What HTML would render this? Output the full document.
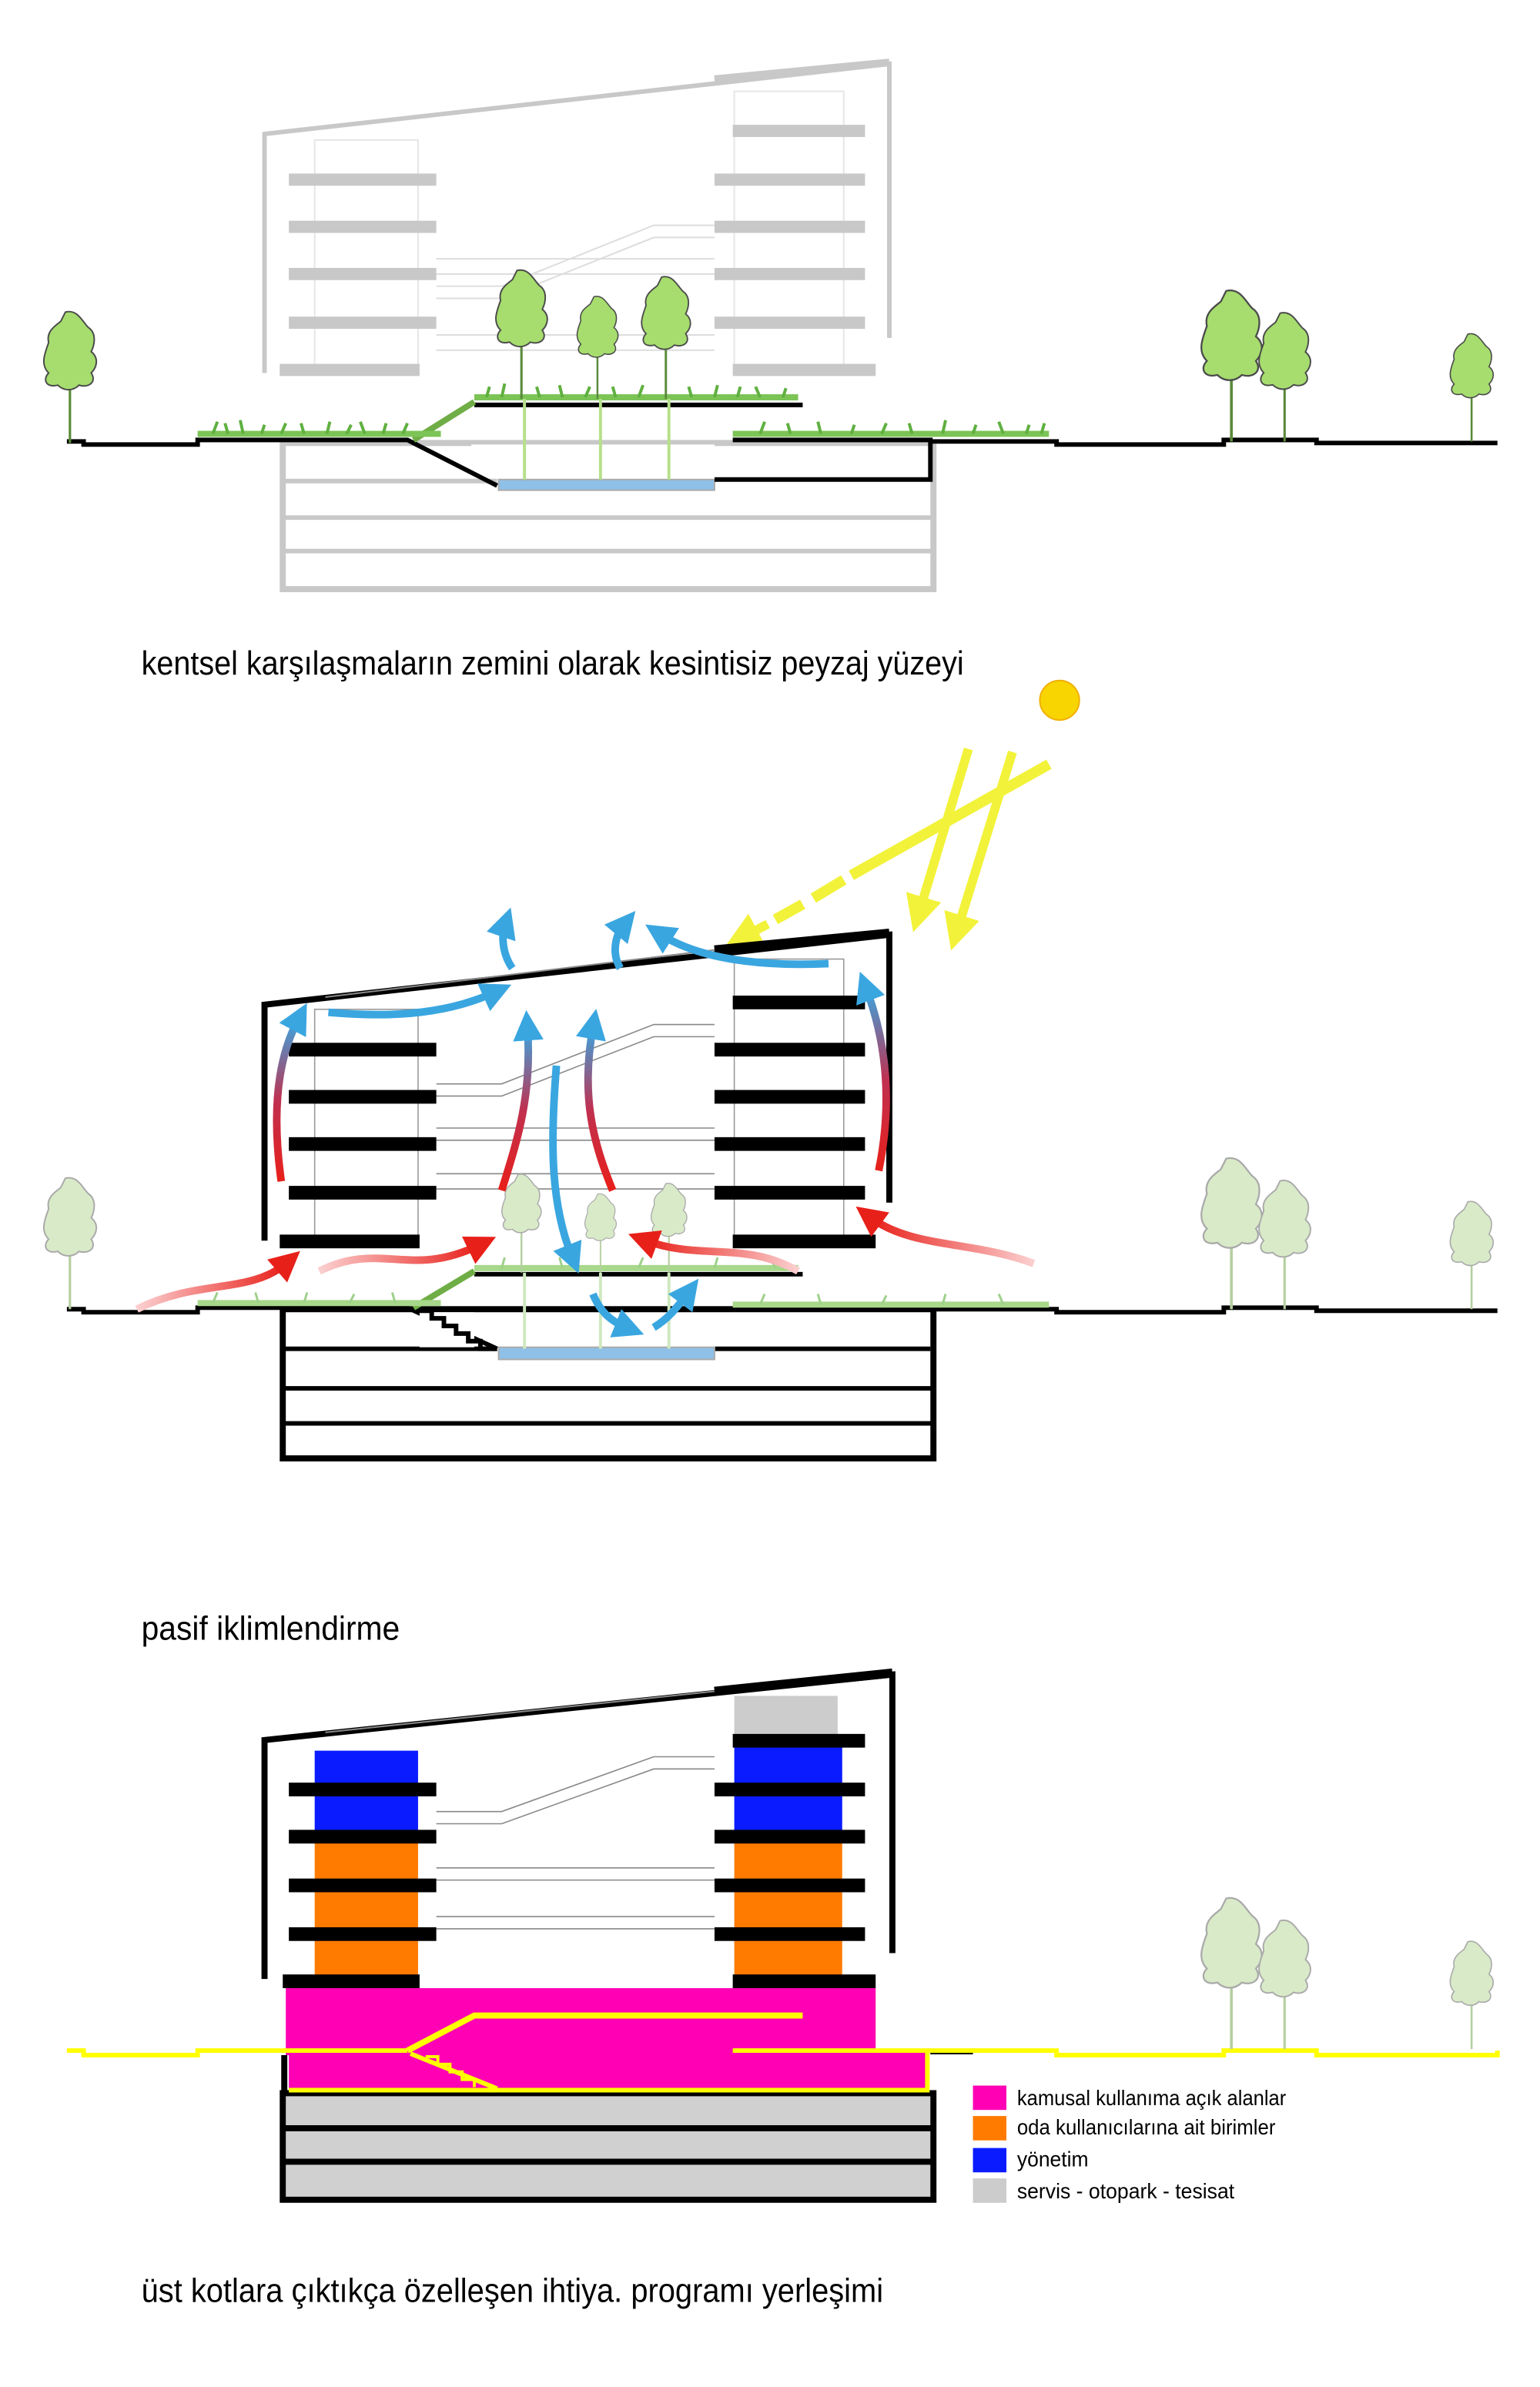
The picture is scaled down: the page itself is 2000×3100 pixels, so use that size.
<!DOCTYPE html>
<html><head><meta charset="utf-8"><style>
html,body{margin:0;padding:0;background:#fff;}
svg{display:block;}
text{font-family:"Liberation Sans",sans-serif;}
</style></head><body>
<svg width="2000" height="3100" viewBox="0 0 1013 1568" preserveAspectRatio="none" xmlns="http://www.w3.org/2000/svg">
<defs>
<g id="tree">
<line x1="0" y1="0" x2="0" y2="-48" stroke="#5a8a3a" stroke-width="1.6"/>
<path d="M-3,-86 C5,-88 8,-80 12,-76 C18,-72 16,-64 14,-60 C19,-56 18,-50 14,-46 C18,-40 12,-36 6,-38 C2,-34 -4,-34 -8,-38 C-16,-36 -18,-42 -14,-46 C-20,-52 -16,-60 -14,-66 C-16,-74 -8,-78 -6,-80 Z" fill="#a6dd6e" stroke="#4a4a4a" stroke-width="1"/>
</g>
<g id="treef">
<line x1="0" y1="0" x2="0" y2="-48" stroke="#b5cfa0" stroke-width="1.6"/>
<path d="M-3,-86 C5,-88 8,-80 12,-76 C18,-72 16,-64 14,-60 C19,-56 18,-50 14,-46 C18,-40 12,-36 6,-38 C2,-34 -4,-34 -8,-38 C-16,-36 -18,-42 -14,-46 C-20,-52 -16,-60 -14,-66 C-16,-74 -8,-78 -6,-80 Z" fill="#d9eac8" stroke="#aaa" stroke-width="1"/>
</g>
<marker id="ab" markerWidth="4" markerHeight="4" refX="1.5" refY="2" orient="auto"><path d="M0,0 L4,2 L0,4 Z" fill="#3aa6e0"/></marker>
<marker id="ar" markerWidth="4" markerHeight="4" refX="1.5" refY="2" orient="auto"><path d="M0,0 L4,2 L0,4 Z" fill="#e8201a"/></marker>
<marker id="ay" markerWidth="4" markerHeight="4" refX="1.5" refY="2" orient="auto"><path d="M0,0 L4,2 L0,4 Z" fill="#f2f23a"/></marker>
<linearGradient id="rb" x1="0" y1="1" x2="0" y2="0"><stop offset="0" stop-color="#e8201a"/><stop offset="0.5" stop-color="#c03050"/><stop offset="1" stop-color="#3aa6e0"/></linearGradient>
<linearGradient id="rh" x1="0" y1="0" x2="1" y2="0"><stop offset="0" stop-color="#fbd0d0"/><stop offset="1" stop-color="#e8201a"/></linearGradient>
<linearGradient id="rh2" x1="1" y1="0" x2="0" y2="0"><stop offset="0" stop-color="#fbd0d0"/><stop offset="1" stop-color="#e8201a"/></linearGradient>
</defs>

<!-- ============ SECTION 1 ============ -->
<g fill="none" stroke="#c8c8c8">
<path d="M174,245 L174,88 L585,42 L585,222" stroke-width="3"/>
<line x1="470" y1="52" x2="585" y2="41" stroke-width="5"/>
<rect x="207" y="92" width="68" height="153" stroke="#e6e6e6" stroke-width="1"/>
<rect x="483" y="60" width="72" height="185" stroke="#e6e6e6" stroke-width="1"/>
<path d="M287,188 L330,188 L430,148 L470,148 M287,196 L330,196 L430,156 L470,156 M287,230 L470,230 M287,220 L470,220 M287,170 L470,170 M287,180 L470,180" stroke="#ddd" stroke-width="1"/>
</g>
<g fill="#c8c8c8">
<rect x="190" y="114" width="97" height="8"/><rect x="190" y="145" width="97" height="8"/><rect x="190" y="176" width="97" height="8"/><rect x="190" y="208" width="97" height="8"/><rect x="184" y="239" width="92" height="8"/>
<rect x="482" y="82" width="87" height="8"/><rect x="470" y="114" width="99" height="8"/><rect x="470" y="145" width="99" height="8"/><rect x="470" y="176" width="99" height="8"/><rect x="470" y="208" width="99" height="8"/><rect x="482" y="239" width="94" height="8"/>
</g>
<rect x="186" y="291" width="428" height="96" fill="none" stroke="#c8c8c8" stroke-width="4"/>
<line x1="186" y1="316" x2="327" y2="316" stroke="#c8c8c8" stroke-width="3"/>
<line x1="186" y1="340" x2="614" y2="340" stroke="#c8c8c8" stroke-width="3"/>
<line x1="186" y1="362" x2="614" y2="362" stroke="#c8c8c8" stroke-width="3"/>
<rect x="310" y="292" width="160" height="22" fill="#fff"/>
<rect x="328" y="315" width="142" height="7" fill="#8ec0e8" stroke="#aaa" stroke-width="1"/>
<g stroke="#000" stroke-width="3" fill="none">
<path d="M44,290 L55,290 L55,292 L130,292 L130,289 L268,289 L327,319"/>
<line x1="312" y1="266" x2="528" y2="266"/>
<path d="M470,315 L612,315 L612,289 L482,289"/>
<path d="M612,290 L695,290 L695,292 L805,292 L805,289 L866,289 L866,291 L985,291"/>
</g>
<path d="M272,289 L312,264" stroke="#6fae46" stroke-width="4"/>
<g stroke="#7cc456" stroke-width="4"><line x1="130" y1="285" x2="290" y2="285"/><line x1="312" y1="261" x2="525" y2="261"/><line x1="482" y1="285" x2="690" y2="285"/></g>
<g stroke="#5fb040" stroke-width="2" fill="none">
<path d="M140,285 l3,-8 M150,285 l-2,-7 M160,285 l-2,-9 M172,285 l2,-6 M185,285 l3,-7 M200,285 l-2,-7 M215,285 l2,-8 M228,285 l3,-6 M240,285 l-3,-8 M252,285 l2,-7 M265,285 l3,-7 M320,261 l2,-7 M330,261 l2,-9 M355,261 l-2,-7 M370,261 l-2,-8 M385,261 l3,-7 M405,261 l-2,-7 M420,261 l3,-8 M455,261 l-2,-7 M470,261 l2,-8 M485,261 l2,-7 M500,261 l-3,-7 M515,261 l2,-6 M500,285 l3,-8 M520,285 l-2,-7 M540,285 l-2,-8 M560,285 l2,-6 M580,285 l3,-7 M600,285 l-2,-7 M620,285 l2,-9 M640,285 l2,-6 M660,285 l-3,-8 M675,285 l2,-6 M685,285 l2,-7"/>
</g>
<g stroke="#b6e08a" stroke-width="2"><line x1="345" y1="262" x2="345" y2="315"/><line x1="395" y1="262" x2="395" y2="315"/><line x1="440" y1="262" x2="440" y2="315"/></g>
<use href="#tree" transform="translate(46,291) scale(1)"/>
<use href="#tree" transform="translate(343,262) scale(0.98)"/>
<use href="#tree" transform="translate(393,262) scale(0.78)"/>
<use href="#tree" transform="translate(438,262) scale(0.93)"/>
<use href="#tree" transform="translate(810,290) scale(1.15)"/>
<use href="#tree" transform="translate(845,290) scale(0.98)"/>
<use href="#tree" transform="translate(968,290) scale(0.82)"/>

<text x="93" y="443" font-size="22" textLength="541" lengthAdjust="spacingAndGlyphs">kentsel karşılaşmaların zemini olarak kesintisiz peyzaj yüzeyi</text>

<!-- ============ SECTION 2 ============ -->
<circle cx="697" cy="460" r="13" fill="#f8d400" stroke="#f0b000" stroke-width="1"/>
<g stroke="#f2f23a" stroke-width="7" fill="none">
<path d="M690,502 L560,575" />
<path d="M555,578 L535,590" /><path d="M528,594 L510,604" />
<path d="M505,607 L490,615" marker-end="url(#ay)" stroke-width="6"/>
<path d="M637,492 L605,598" marker-end="url(#ay)" stroke-width="6"/>
<path d="M666,494 L630,610" marker-end="url(#ay)" stroke-width="6"/>
</g>
<g fill="none" stroke="#000">
<path d="M174,815 L174,660 L585,614 L585,790" stroke-width="4"/>
<line x1="470" y1="624" x2="585" y2="613" stroke-width="6"/>
<line x1="214" y1="655" x2="470" y2="624" stroke="#888" stroke-width="1"/>
<rect x="207" y="663" width="68" height="153" stroke="#999" stroke-width="0.8"/>
<rect x="483" y="630" width="72" height="186" stroke="#999" stroke-width="0.8"/>
<path d="M287,712 L330,712 L430,673 L470,673 M287,720 L330,720 L430,681 L470,681 M287,741 L470,741 M287,749 L470,749 M287,771 L470,771 M287,781 L470,781" stroke="#888" stroke-width="0.8"/>
</g>
<g fill="#000">
<rect x="190" y="685" width="97" height="9"/><rect x="190" y="716" width="97" height="9"/><rect x="190" y="747" width="97" height="9"/><rect x="190" y="779" width="97" height="9"/><rect x="184" y="811" width="92" height="9"/>
<rect x="482" y="654" width="87" height="9"/><rect x="470" y="685" width="99" height="9"/><rect x="470" y="716" width="99" height="9"/><rect x="470" y="747" width="99" height="9"/><rect x="470" y="779" width="99" height="9"/><rect x="482" y="811" width="94" height="9"/>
</g>
<g stroke="#000" stroke-width="3" fill="none">
<path d="M44,860 L55,860 L55,862 L130,862 L130,859 L268,859 L327,886"/>
<line x1="312" y1="837" x2="528" y2="837"/>
<path d="M470,886 L612,886"/>
<path d="M482,860 L612,860 L695,860 L695,862 L805,862 L805,859 L866,859 L866,861 L985,861"/>
</g>
<rect x="186" y="860" width="428" height="98" fill="none" stroke="#000" stroke-width="4"/>
<line x1="186" y1="912" x2="614" y2="912" stroke="#000" stroke-width="3"/>
<line x1="186" y1="935" x2="614" y2="935" stroke="#000" stroke-width="3"/>
<line x1="186" y1="886" x2="327" y2="886" stroke="#000" stroke-width="3"/>
<rect x="276" y="862" width="36" height="23" fill="#fff"/>
<path d="M276,861 L284,861 L284,866 L292,866 L292,871 L300,871 L300,876 L308,876 L308,881 L316,881 L316,886 L327,886" fill="none" stroke="#000" stroke-width="3"/>
<rect x="328" y="885" width="142" height="8" fill="#8ec0e8" stroke="#aaa" stroke-width="1"/>
<path d="M272,859 L312,835" stroke="#6fae46" stroke-width="4"/>
<g stroke="#a8d88a" stroke-width="4"><line x1="130" y1="856" x2="290" y2="856"/><line x1="312" y1="833" x2="525" y2="833"/><line x1="482" y1="857" x2="690" y2="857"/></g>
<g stroke="#9ed08a" stroke-width="1.5" fill="none">
<path d="M140,856 l3,-7 M170,856 l-2,-7 M200,856 l2,-7 M230,856 l3,-6 M260,856 l-2,-7 M330,833 l2,-7 M370,833 l-2,-7 M420,833 l3,-7 M470,833 l2,-7 M510,833 l-3,-6 M500,857 l3,-7 M540,857 l-2,-7 M580,857 l3,-6 M620,857 l2,-7 M660,857 l-3,-7"/>
</g>
<g stroke="#cfe8bf" stroke-width="2"><line x1="345" y1="836" x2="345" y2="886"/><line x1="395" y1="836" x2="395" y2="886"/><line x1="440" y1="836" x2="440" y2="886"/></g>
<use href="#treef" transform="translate(343,836) scale(0.75)"/>
<use href="#treef" transform="translate(395,836) scale(0.6)"/>
<use href="#treef" transform="translate(440,836) scale(0.68)"/>
<use href="#treef" transform="translate(46,860)"/>
<use href="#treef" transform="translate(810,860) scale(1.15)"/>
<use href="#treef" transform="translate(845,860) scale(0.98)"/>
<use href="#treef" transform="translate(968,860) scale(0.82)"/>
<g fill="none" stroke-width="5">
<path d="M185,776 C180,740 180,700 196,670" stroke="url(#rb)" marker-end="url(#ab)"/>
<path d="M578,769 C586,730 585,690 570,650" stroke="url(#rb)" marker-end="url(#ab)"/>
<path d="M330,782 C340,750 350,720 347,676" stroke="url(#rb)" marker-end="url(#ab)"/>
<path d="M403,782 C390,750 382,720 390,675" stroke="url(#rb)" marker-end="url(#ab)"/>
<path d="M366,700 C362,750 362,790 376,825" stroke="#3aa6e0" marker-end="url(#ab)"/>
<path d="M216,665 C250,668 290,668 325,652" stroke="#3aa6e0" marker-end="url(#ab)"/>
<path d="M545,633 C500,635 460,630 435,614" stroke="#3aa6e0" marker-end="url(#ab)"/>
<path d="M337,636 C330,626 330,614 332,608" stroke="#3aa6e0" marker-end="url(#ab)"/>
<path d="M408,636 C402,626 405,614 410,608" stroke="#3aa6e0" marker-end="url(#ab)"/>
<path d="M390,850 C395,862 402,868 412,872" stroke="#3aa6e0" marker-end="url(#ab)"/>
<path d="M430,872 C440,866 446,858 452,850" stroke="#3aa6e0" marker-end="url(#ab)"/>
<path d="M90,860 C130,840 165,850 188,830" stroke="url(#rh)" marker-end="url(#ar)"/>
<path d="M210,835 C250,815 270,840 315,818" stroke="url(#rh)" marker-end="url(#ar)"/>
<path d="M525,835 C490,815 460,828 425,815" stroke="url(#rh2)" marker-end="url(#ar)"/>
<path d="M680,830 C640,815 600,820 573,800" stroke="url(#rh2)" marker-end="url(#ar)"/>
</g>

<text x="93" y="1077" font-size="22" textLength="170" lengthAdjust="spacingAndGlyphs">pasif iklimlendirme</text>

<!-- ============ SECTION 3 ============ -->
<rect x="483" y="1114" width="68" height="27" fill="#cccccc"/>
<rect x="207" y="1150" width="68" height="56" fill="#0a1cff"/>
<rect x="207" y="1206" width="68" height="96" fill="#ff7b00"/>
<rect x="483" y="1143" width="71" height="62" fill="#0a1cff"/>
<rect x="483" y="1205" width="71" height="97" fill="#ff7b00"/>
<g fill="none" stroke="#000">
<path d="M174,1300 L174,1143 L587,1100 L587,1283" stroke-width="4"/>
<line x1="470" y1="1111" x2="587" y2="1099" stroke-width="6"/>
<line x1="214" y1="1138" x2="470" y2="1111" stroke="#888" stroke-width="1"/>
<path d="M287,1190 L330,1190 L430,1154 L470,1154 M287,1198 L330,1198 L430,1162 L470,1162 M287,1227 L470,1227 M287,1235 L470,1235 M287,1259 L470,1259 M287,1267 L470,1267" stroke="#888" stroke-width="0.8"/>
</g>
<g fill="#000">
<rect x="190" y="1171" width="97" height="9"/><rect x="190" y="1202" width="97" height="9"/><rect x="190" y="1234" width="97" height="9"/><rect x="190" y="1266" width="97" height="9"/><rect x="186" y="1297" width="90" height="9"/>
<rect x="482" y="1139" width="87" height="9"/><rect x="470" y="1171" width="99" height="9"/><rect x="470" y="1202" width="99" height="9"/><rect x="470" y="1234" width="99" height="9"/><rect x="470" y="1266" width="99" height="9"/><rect x="482" y="1297" width="94" height="9"/>
</g>
<rect x="188" y="1306" width="388" height="44" fill="#ff00b4"/>
<rect x="190" y="1348" width="420" height="25" fill="#ff00b4"/>
<rect x="186" y="1375" width="428" height="70" fill="#d0d0d0" stroke="#000" stroke-width="4"/>
<line x1="186" y1="1398" x2="614" y2="1398" stroke="#000" stroke-width="4"/>
<line x1="186" y1="1420" x2="614" y2="1420" stroke="#000" stroke-width="4"/>
<line x1="187" y1="1350" x2="187" y2="1375" stroke="#000" stroke-width="4"/>
<g stroke="#ffff00" stroke-width="3" fill="none">
<path d="M44,1347 L55,1347 L55,1350 L130,1350 L130,1347 L268,1347"/>
<path d="M268,1347 L312,1324 L528,1324" stroke-width="4"/>
<path d="M270,1349 L327,1372"/>
<path d="M190,1373 L610,1373 L610,1347 L482,1347"/>
<path d="M610,1347 L695,1347 L695,1350 L805,1350 L805,1347 L866,1347 L866,1350 L985,1350 L985,1347"/>
</g>
<path d="M280,1351 L288,1351 L288,1356 L296,1356 L296,1361 L304,1361 L304,1366 L312,1366 L312,1371" fill="none" stroke="#ffff00" stroke-width="2"/>
<line x1="612" y1="1349" x2="640" y2="1349" stroke="#000" stroke-width="1"/>
<use href="#treef" transform="translate(810,1346) scale(1.15)"/>
<use href="#treef" transform="translate(845,1346) scale(0.98)"/>
<use href="#treef" transform="translate(968,1346) scale(0.82)"/>
<rect x="640" y="1370" width="22" height="16" fill="#ff00b4"/>
<rect x="640" y="1390" width="22" height="16" fill="#ff7b00"/>
<rect x="640" y="1411" width="22" height="16" fill="#0a1cff"/>
<rect x="640" y="1431" width="22" height="16" fill="#cccccc"/>
<g font-size="14">
<text x="669" y="1383" textLength="177" lengthAdjust="spacingAndGlyphs">kamusal kullanıma açık alanlar</text>
<text x="669" y="1402" textLength="170" lengthAdjust="spacingAndGlyphs">oda kullanıcılarına ait birimler</text>
<text x="669" y="1423" textLength="47" lengthAdjust="spacingAndGlyphs">yönetim</text>
<text x="669" y="1444" textLength="143" lengthAdjust="spacingAndGlyphs">servis - otopark - tesisat</text>
</g>
<text x="93" y="1512" font-size="22" textLength="488" lengthAdjust="spacingAndGlyphs">üst kotlara çıktıkça özelleşen ihtiya. programı yerleşimi</text>
</svg>
</body></html>
